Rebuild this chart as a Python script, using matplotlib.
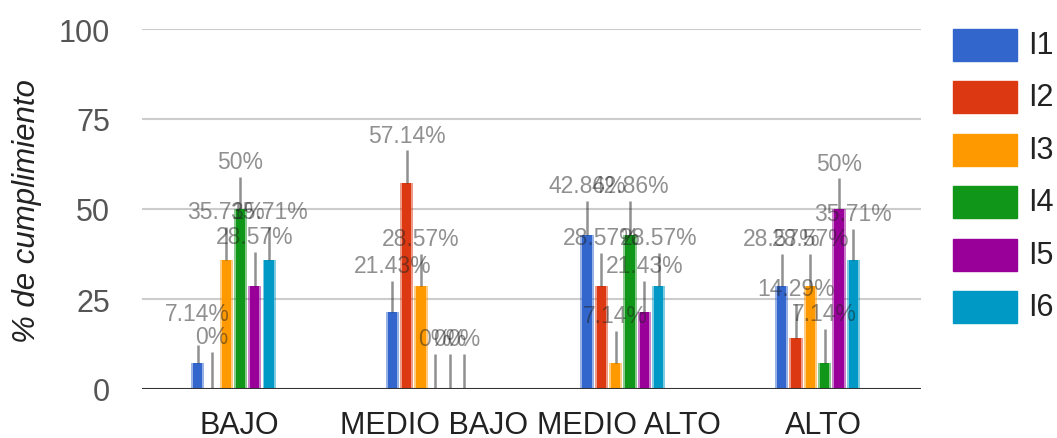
import matplotlib
matplotlib.use("Agg")
import matplotlib.pyplot as plt
from matplotlib.patches import Rectangle
import numpy as np

plt.rcParams['font.family'] = ['Liberation Sans', 'DejaVu Sans']

categories = ["BAJO", "MEDIO BAJO", "MEDIO ALTO", "ALTO"]
series = ["I1", "I2", "I3", "I4", "I5", "I6"]
colors = ["#3366cc", "#dc3912", "#ff9900", "#109618", "#990099", "#0099c6"]

i1 = [7.14, 21.43, 42.86, 28.57]
i2 = [0, 57.14, 28.57, 14.29]
i3 = [35.71, 28.57, 7.14, 28.57]
i4 = [50, 0, 42.86, 7.14]
i5 = [28.57, 0, 21.43, 50]
i6 = [35.71, 0, 28.57, 35.71]
values = [i1, i2, i3, i4, i5, i6]

# height of each annotation label (y units), as placed in the original
lab_i1 = [20.9, 34.3, 56.5, 41.8]
lab_i2 = [14.5, 70.5, 42.0, 27.9]
lab_i3 = [49.3, 41.8, 20.3, 41.8]
lab_i4 = [63.2, 13.9, 56.5, 20.9]
lab_i5 = [42.3, 13.9, 34.3, 62.7]
lab_i6 = [49.3, 13.9, 42.0, 48.7]
label_y = [lab_i1, lab_i2, lab_i3, lab_i4, lab_i5, lab_i6]

W, H = 1057, 439
fig = plt.figure(figsize=(W / 100, H / 100), dpi=100)
ax = fig.add_axes([142 / W, (H - 390) / H, (921 - 142) / W, 360 / H])

pitch = 0.0735
bw = 0.068
xpos = np.arange(len(categories))

for k, (name, vals, col) in enumerate(zip(series, values, colors)):
    x = xpos + (k - 2.5) * pitch - 0.031
    ax.bar(x, vals, width=bw, color=col, alpha=0.5, zorder=2)
    ax.bar(x, vals, width=bw * 0.7, color=col, zorder=2)
    stem_top = np.array(label_y[k]) - 4.2
    if k == 0:
        stem_top[0] = 12.1  # this label got pushed up, stem stayed short
    ax.vlines(x, vals, stem_top, color="#222222", alpha=0.5, lw=1.8, zorder=3)
    for xi, v, ly in zip(x, vals, label_y[k]):
        ax.text(xi, ly, f"{v:g}%", ha="center", va="center", fontsize=16.5,
                color="#222222", alpha=0.5, zorder=4)

ax.set_xlim(-0.5, 3.5)
ax.set_ylim(0, 100)
ax.set_yticks([0, 25, 50, 75, 100])
ax.set_xticks(xpos)
ax.set_xticklabels(categories)
ax.tick_params(axis="x", length=0, pad=15, labelsize=22, labelcolor="#222222")
ax.tick_params(axis="y", length=0, pad=23, labelsize=22, labelcolor="#555555")
ax.yaxis.grid(True, color="#cccccc", lw=1.5)
ax.set_axisbelow(True)
ax.axhline(0, color="#333333", lw=2.2, zorder=3)
for s in ax.spines.values():
    s.set_visible(False)

fig.text(27 / W, 0.52, "% de cumplimiento", rotation=90, ha="center", va="center",
         fontsize=22.5, style="italic", color="#222222")

for k, (name, col) in enumerate(zip(series, colors)):
    top = 30 + 52.4 * k
    fig.add_artist(Rectangle((953 / W, 1 - (top + 32) / H), 64 / W, 32 / H,
                             transform=fig.transFigure, color=col))
    fig.text(1028 / W, 1 - (top + 16) / H, name, ha="left", va="center",
             fontsize=22, color="#222222")

fig.savefig("out.png", dpi=100)
